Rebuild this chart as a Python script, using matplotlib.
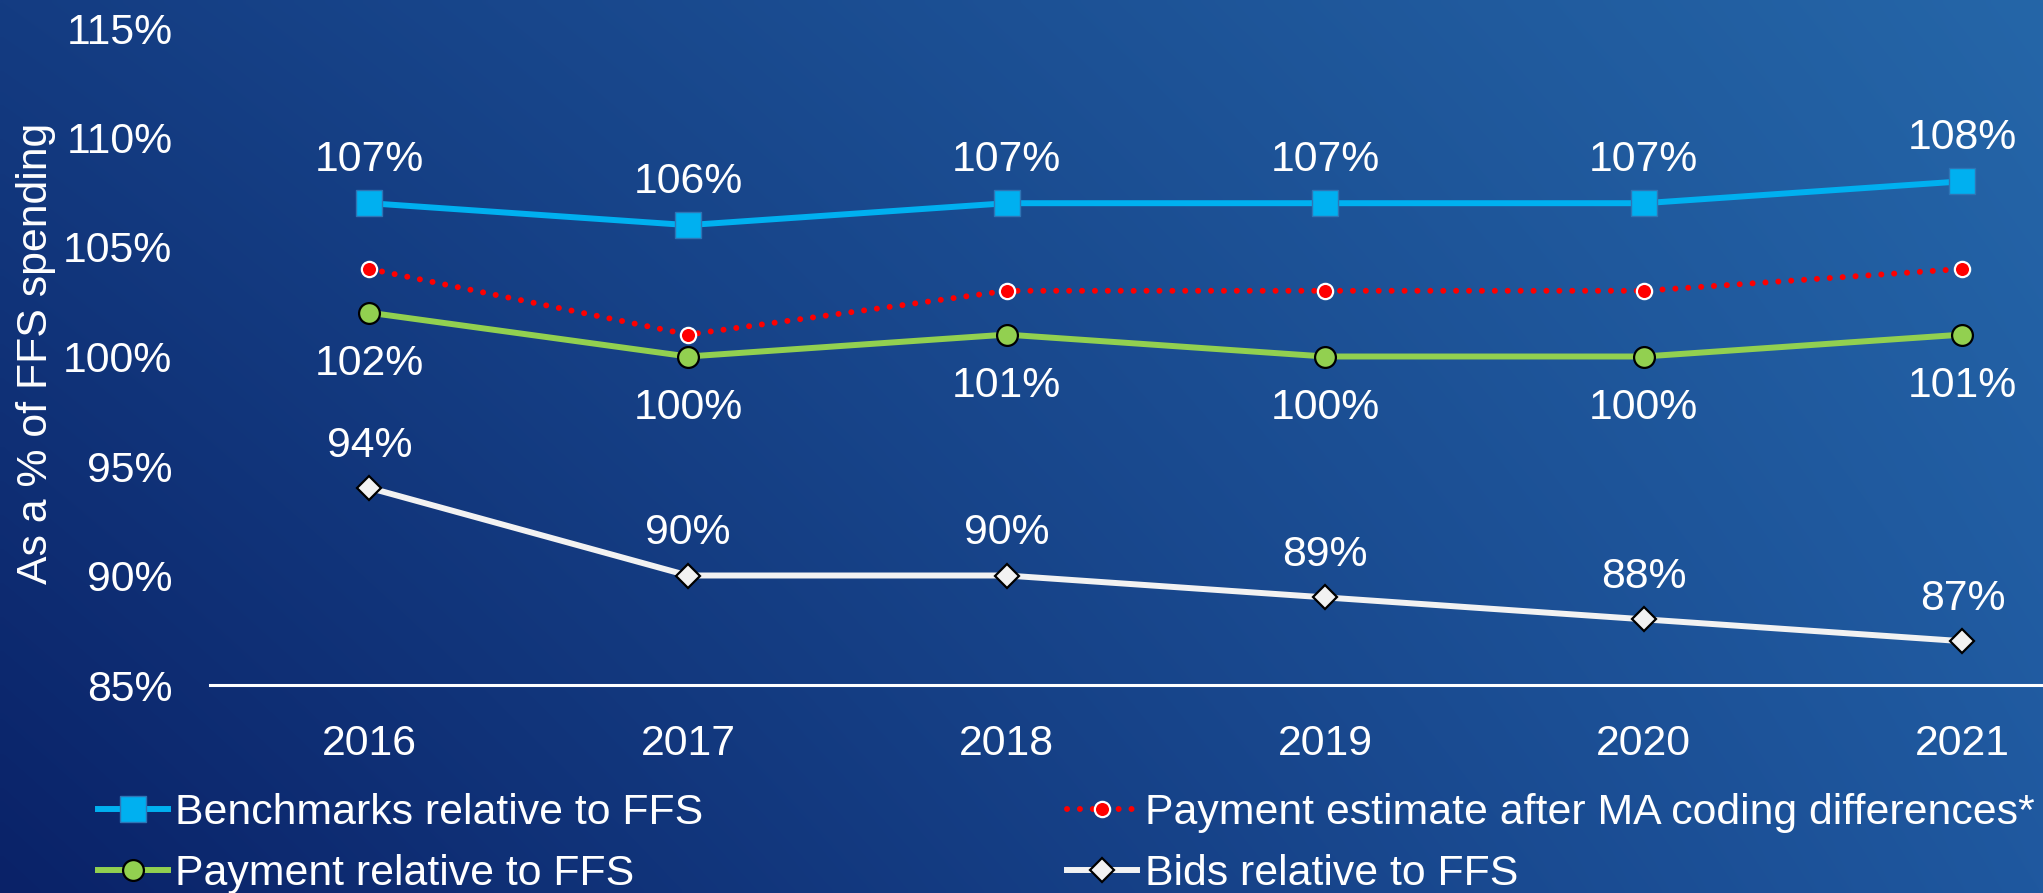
import numpy as np
import matplotlib
matplotlib.use("Agg")
import matplotlib.pyplot as plt
from matplotlib.colors import to_rgb

plt.rcParams['font.family'] = ['Liberation Sans', 'DejaVu Sans']

years = ["2016", "2017", "2018", "2019", "2020", "2021"]
benchmarks = [107, 106, 107, 107, 107, 108]
payment_est = [104, 101, 103, 103, 103, 104]
payment = [102, 100, 101, 100, 100, 101]
bids = [94, 90, 90, 89, 88, 87]
yticks = [85, 90, 95, 100, 105, 110, 115]

labels = ["Benchmarks relative to FFS", "Payment relative to FFS",
          "Payment estimate after MA coding differences*", "Bids relative to FFS"]

W, H = 2043, 893
fig = plt.figure(figsize=(W / 100, H / 100), dpi=100)

# gradient background (bilinear between corner colours)
bg = fig.add_axes([0, 0, 1, 1], zorder=-10)
BL, BR = np.array(to_rgb("#0a2268")), np.array(to_rgb("#1f589f"))
TL, TR = np.array(to_rgb("#143c82")), np.array(to_rgb("#2566a8"))
gx = np.linspace(0, 1, 300)[None, :, None]
gy = np.linspace(0, 1, 150)[:, None, None]
img = (BL * (1 - gx) * (1 - gy) + BR * gx * (1 - gy) + TL * (1 - gx) * gy + TR * gx * gy)
bg.imshow(img, origin="lower", extent=[0, 1, 0, 1], aspect="auto", interpolation="bilinear")
bg.axis("off")

left = 210 / W
bottom = (H - 685) / H
top = (H - 28) / H
ax = fig.add_axes([left, bottom, 1 - left, top - bottom])
ax.patch.set_alpha(0)

x = np.arange(len(years))
l1, = ax.plot(x, benchmarks, color="#00B0F0", lw=4.3, marker="s", ms=18.5,
              mfc="#00B0F0", mec="#2e75b6", mew=1.0, zorder=5)
l3, = ax.plot(x, payment_est, color="#FF0000", lw=4.3, linestyle=(0, (0.01, 2.15)),
              dash_capstyle="round", marker="o", ms=11, mfc="#FF0000", mec="white",
              mew=1.6, zorder=5)
l2, = ax.plot(x, payment, color="#92D050", lw=4.3, marker="o", ms=15,
              mfc="#92D050", mec="black", mew=1.6, zorder=5)
l4, = ax.plot(x, bids, color="#f2f2f2", lw=4.3, marker="D", ms=12.5,
              mfc="#f2f2f2", mec="black", mew=1.6, zorder=5)

fs = 30.8
for xi, v in zip(x, benchmarks):
    ax.annotate(f"{v}%", (xi, v), xytext=(0, 31), textcoords="offset points",
                ha="center", va="center", color="white", fontsize=fs)
for xi, v in zip(x, payment):
    ax.annotate(f"{v}%", (xi, v), xytext=(0, -37), textcoords="offset points",
                ha="center", va="center", color="white", fontsize=fs)
for xi, v in zip(x, bids):
    ax.annotate(f"{v}%", (xi, v), xytext=(0, 30.5), textcoords="offset points",
                ha="center", va="center", color="white", fontsize=fs)

ax.set_xlim(-0.5, (W - 370) / 318.5)
ax.set_ylim(85, 115)
ax.set_yticks(yticks)
ax.set_yticklabels([f"{t}%" for t in yticks])
ax.set_xticks(x)
ax.set_xticklabels(years)
ax.tick_params(axis="y", length=0, pad=27, colors="white", labelsize=fs)
ax.tick_params(axis="x", length=0, pad=28, colors="white", labelsize=fs)
for s in ["top", "right", "left"]:
    ax.spines[s].set_visible(False)
ax.spines["bottom"].set_color("white")
ax.spines["bottom"].set_linewidth(2.2)

fig.text(36 / W, (H - 353) / H, "As a % of FFS spending", rotation=90,
         ha="center", va="center", color="white", fontsize=fs)

leg = fig.legend([l1, l2, l3, l4], labels, ncol=2, loc="upper left",
                 bbox_to_anchor=(98 / W, (H - 793) / H), frameon=False,
                 fontsize=fs, handlelength=1.64, handletextpad=0.17,
                 columnspacing=8.5, labelspacing=0.5, borderaxespad=0,
                 borderpad=0, handleheight=0.7)
for t in leg.get_texts():
    t.set_color("white")

fig.savefig("out.png", dpi=100)
